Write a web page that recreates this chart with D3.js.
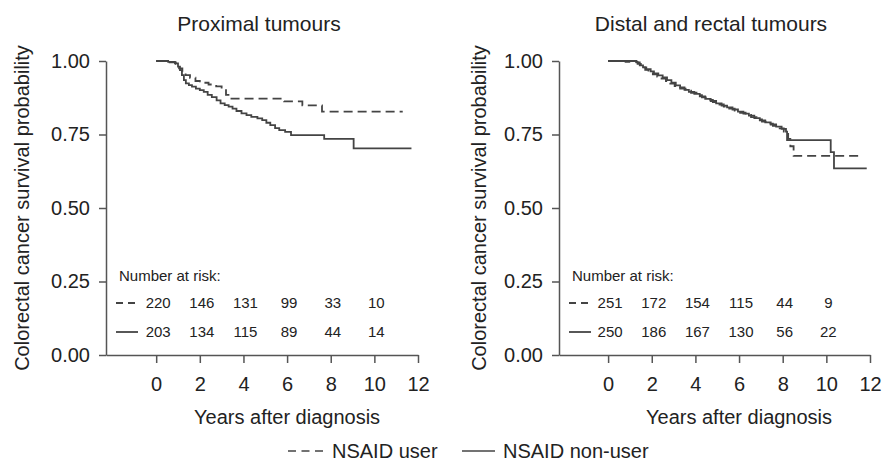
<!DOCTYPE html>
<html><head><meta charset="utf-8">
<script src="https://cdn.jsdelivr.net/npm/d3@7/dist/d3.min.js"></script>
<style>
body{margin:0;background:#fff;}
svg text{font-family:"Liberation Sans",Arial,Helvetica,sans-serif;fill:#222;}
</style></head>
<body><svg id="c" width="883" height="465"></svg>
<script>
// ---- data ----
const panelTitles = ["Proximal tumours", "Distal and rectal tumours"];
const xTicks = [0, 2, 4, 6, 8, 10, 12];
const yTicks = [0, 0.25, 0.5, 0.75, 1];
const riskTimes = [0, 2, 4, 6, 8, 10];
const seriesNames = ["NSAID user", "NSAID non-user"];

// Proximal: [time, survival] steps, last point = end of follow-up
const proxUser = [[0,1],[0.55,0.995],[0.9,0.99],[1.05,0.975],[1.2,0.962],[1.35,0.952],[1.55,0.943],[1.8,0.932],[2.0,0.926],[2.4,0.92],[2.75,0.914],[3.0,0.905],[3.2,0.885],[3.4,0.872],[5.86,0.863],[6.7,0.849],[7.6,0.828],[11.3,0.828]];
const proxNonUser = [[0,1],[0.55,0.997],[0.86,0.992],[1.0,0.981],[1.09,0.969],[1.18,0.952],[1.27,0.935],[1.36,0.924],[1.5,0.918],[1.64,0.913],[1.82,0.906],[2.0,0.901],[2.18,0.895],[2.36,0.885],[2.55,0.877],[2.77,0.866],[2.95,0.856],[3.14,0.85],[3.32,0.845],[3.5,0.838],[3.68,0.83],[3.91,0.822],[4.14,0.816],[4.36,0.81],[4.64,0.805],[4.86,0.799],[5.05,0.79],[5.23,0.782],[5.45,0.772],[5.64,0.765],[5.91,0.759],[6.18,0.748],[7.7,0.735],[9.05,0.703],[11.7,0.703]];
// Distal and rectal
const distUser = [[0,1],[0.8,0.997],[1.35,0.99],[1.5,0.978],[1.7,0.97],[1.85,0.962],[2.05,0.955],[2.25,0.947],[2.45,0.94],[2.65,0.932],[2.85,0.923],[3.05,0.915],[3.3,0.906],[3.55,0.899],[3.8,0.892],[4.05,0.884],[4.3,0.876],[4.55,0.868],[4.8,0.86],[5.05,0.852],[5.3,0.845],[5.55,0.838],[5.8,0.831],[6.05,0.824],[6.3,0.817],[6.55,0.809],[6.8,0.801],[7.05,0.794],[7.3,0.787],[7.55,0.779],[7.8,0.771],[8.05,0.76],[8.25,0.735],[8.35,0.71],[8.5,0.677],[11.6,0.677]];
const distNonUser = [[0,1],[1.3,0.995],[1.45,0.985],[1.6,0.978],[1.75,0.972],[1.95,0.965],[2.1,0.958],[2.3,0.951],[2.5,0.944],[2.7,0.935],[2.9,0.926],[3.1,0.917],[3.3,0.91],[3.5,0.902],[3.7,0.895],[3.95,0.888],[4.2,0.88],[4.45,0.871],[4.7,0.864],[4.95,0.856],[5.2,0.848],[5.45,0.842],[5.7,0.835],[5.95,0.828],[6.2,0.821],[6.45,0.814],[6.7,0.806],[6.95,0.798],[7.2,0.791],[7.45,0.784],[7.7,0.777],[7.95,0.769],[8.15,0.76],[8.2,0.731],[10.2,0.69],[10.35,0.635],[11.85,0.635]];

const proxRiskUser = [220, 146, 131, 99, 33, 10];
const proxRiskNonUser = [203, 134, 115, 89, 44, 14];
const distRiskUser = [251, 172, 154, 115, 44, 9];
const distRiskNonUser = [250, 186, 167, 130, 56, 22];

// ---- drawing ----
const svg = d3.select("#c");
const lineCol = "#444", axisCol = "#555";
const dashUser = "9,5";

const panels = [
  {title: panelTitles[0], x0: 106, x1: 418, xmin: -2.3, titleX: 259, ylabX: 22,
   curves: [proxUser, proxNonUser], risk: [proxRiskUser, proxRiskNonUser]},
  {title: panelTitles[1], x0: 559, x1: 870, xmin: -2.25, titleX: 711, ylabX: 479,
   curves: [distUser, distNonUser], risk: [distRiskUser, distRiskNonUser]}
];

const y = d3.scaleLinear().domain([0, 1]).range([355, 61]);

panels.forEach(p => {
  const x = d3.scaleLinear().domain([p.xmin, 12]).range([p.x0, p.x1]);
  const g = svg.append("g");

  // axes
  const ax = g.append("g").attr("transform", "translate(0,355)")
    .call(d3.axisBottom(x).tickValues(xTicks).tickSize(8).tickSizeOuter(0).tickPadding(14).tickFormat(d3.format("d")));
  const ay = g.append("g").attr("transform", `translate(${p.x0},0)`)
    .call(d3.axisLeft(y).tickValues(yTicks).tickSize(7).tickSizeOuter(0).tickPadding(9).tickFormat(d3.format(".2f")));
  [ax, ay].forEach(a => {
    a.selectAll("path,line").attr("stroke", axisCol).attr("stroke-width", 1.5);
    a.selectAll("text").attr("font-size", 20).attr("fill", "#222");
  });

  // titles & labels
  g.append("text").attr("x", p.titleX).attr("y", 31).attr("text-anchor", "middle")
    .attr("font-size", 21).text(p.title);
  g.append("text").attr("x", (x(0) + x(12)) / 2).attr("y", 424).attr("text-anchor", "middle")
    .attr("font-size", 20).text("Years after diagnosis");
  g.append("text").attr("transform", `translate(${p.ylabX},${(y(0) + y(1)) / 2}) rotate(-90)`)
    .attr("text-anchor", "middle").attr("dy", "0.35em").attr("font-size", 20)
    .text("Colorectal cancer survival probability");

  // curves
  const line = d3.line().x(d => x(d[0])).y(d => y(d[1])).curve(d3.curveStepAfter);
  p.curves.forEach((c, i) => {
    g.append("path").attr("d", line(c)).attr("fill", "none")
      .attr("stroke", lineCol).attr("stroke-width", 1.8)
      .attr("stroke-dasharray", i === 0 ? dashUser : null);
  });

  // number at risk
  g.append("text").attr("x", p.x0 + 13).attr("y", 281).attr("font-size", 15).text("Number at risk:");
  const rowY = [308, 337];
  p.risk.forEach((r, i) => {
    g.append("line").attr("x1", p.x0 + 10).attr("x2", p.x0 + 32)
      .attr("y1", rowY[i] - 5).attr("y2", rowY[i] - 5)
      .attr("stroke", lineCol).attr("stroke-width", 1.8)
      .attr("stroke-dasharray", i === 0 ? "7,5" : null);
    g.selectAll(null).data(r).enter().append("text")
      .attr("x", (d, j) => x(riskTimes[j]) + 2).attr("y", rowY[i])
      .attr("text-anchor", "middle").attr("font-size", 15).text(d => d);
  });
});

// legend
const lg = svg.append("g");
lg.append("line").attr("x1", 288).attr("x2", 327).attr("y1", 451).attr("y2", 451)
  .attr("stroke", lineCol).attr("stroke-width", 1.5).attr("stroke-dasharray", "8,5.5");
lg.append("text").attr("x", 332).attr("y", 458).attr("font-size", 20).text(seriesNames[0]);
lg.append("line").attr("x1", 462).attr("x2", 495).attr("y1", 451).attr("y2", 451)
  .attr("stroke", lineCol).attr("stroke-width", 1.5);
lg.append("text").attr("x", 503).attr("y", 458).attr("font-size", 20).text(seriesNames[1]);
</script></body></html>
